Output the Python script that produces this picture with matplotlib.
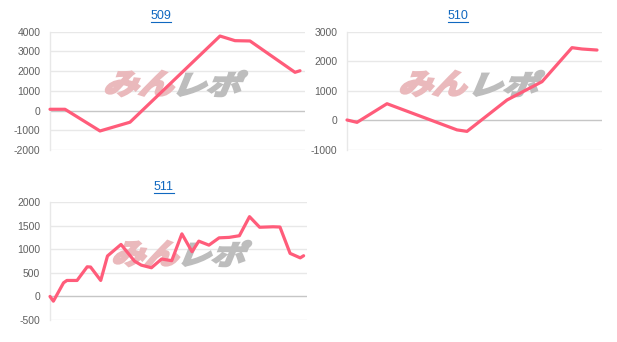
import matplotlib.pyplot as plt
from matplotlib.font_manager import FontProperties
from matplotlib.lines import Line2D
from matplotlib.patches import PathPatch
from matplotlib.textpath import TextPath
from matplotlib.transforms import Affine2D, IdentityTransform

W, H = 617, 342

titles = ["509", "510", "511"]

x509 = [0, 3, 10, 16, 34, 37, 40, 49, 50]
y509 = [65, 65, -1035, -590, 3780, 3545, 3530, 1940, 2020]

x510 = [0, 2, 8, 22, 24, 32, 39, 45, 47, 50]
y510 = [15, -65, 565, -320, -370, 690, 1310, 2460, 2415, 2380]

x511 = [0, 1, 4, 5, 8, 11, 12, 15, 17, 21, 25, 27, 30, 33, 36, 39, 42, 44,
        47, 50, 53, 56, 59, 62, 66, 68, 71, 74, 75]
y511 = [0, -100, 290, 340, 340, 630, 625, 340, 860, 1105, 750, 665, 610, 795,
        760, 1330, 950, 1175, 1090, 1245, 1255, 1290, 1695, 1470, 1480, 1475,
        915, 820, 865]

ticks509 = [-2000, -1000, 0, 1000, 2000, 3000, 4000]
ticks510 = [-1000, 0, 1000, 2000, 3000]
ticks511 = [-500, 0, 500, 1000, 1500, 2000]

LINE = "#ff5c7a"
GRID = "#e8e8e8"
ZERO = "#c6c6c6"
LINK = "#1068c0"

plt.rcParams["font.family"] = ["Liberation Sans", "DejaVu Sans"]

fig = plt.figure(figsize=(W / 100, H / 100), dpi=100)

# panels: (left, right, top, bottom) in image pixels
panels = [
    dict(box=(50, 305, 31.7, 150), x=x509, y=y509, ticks=ticks509, xmax=51,
         title=(161, 16), logo=((105, 175), (177, 248), (70, 97))),
    dict(box=(347, 602, 31.7, 150), x=x510, y=y510, ticks=ticks510, xmax=51,
         title=(458, 16), logo=((400, 468), (473, 545), (70, 97))),
    dict(box=(50, 307, 202.3, 320), x=x511, y=y511, ticks=ticks511, xmax=76,
         title=(164, 187), logo=((113, 180), (182, 252), (240, 267))),
]

fp = FontProperties(family="Noto Sans CJK JP", weight="bold")


def logo_patch(text, xr, yr, color):
    path = TextPath((0, 0), text, size=100, prop=fp)
    path = Affine2D().skew_deg(18, 0).transform_path(path)
    (x0, y0), (x1, y1) = path.get_extents().get_points()
    # leave room for the stroke that fattens the glyphs
    top, bot = H - yr[0] - 1, H - yr[1] + 1
    xa, xb = xr[0] + 1, xr[1] - 1
    tr = (Affine2D().translate(-x0, -y0)
          .scale((xb - xa) / (x1 - x0), (top - bot) / (y1 - y0))
          .translate(xa, bot))
    return PathPatch(tr.transform_path(path), facecolor=color, edgecolor=color,
                     lw=1.8, joinstyle="miter", transform=IdentityTransform(),
                     zorder=1)


title_texts = []
for p, name in zip(panels, titles):
    l, r, t, b = p["box"]
    ax = fig.add_axes([l / W, 1 - b / H, (r - l) / W, (b - t) / H])
    ax.set_facecolor("none")
    ax.set_yticks(p["ticks"])
    ax.set_yticklabels([str(v) for v in p["ticks"]])
    ax.set_xticks([])
    for v in p["ticks"]:
        ax.axhline(v, color=ZERO if v == 0 else GRID, lw=1, zorder=0.5)
    for s in ["top", "right", "bottom"]:
        ax.spines[s].set_visible(False)
    ax.spines["left"].set_color(GRID)
    ax.spines["left"].set_linewidth(1)
    ax.tick_params(axis="y", length=0, pad=7, labelsize=7.5, labelcolor="#606060")

    pink_x, gray_x, yr = p["logo"]
    ax.add_patch(logo_patch("みん", pink_x, yr, "#eab9bc"))
    ax.add_patch(logo_patch("レポ", gray_x, yr, "#bdbdbd"))
    ax.set_xlim(0, p["xmax"])
    ax.set_ylim(p["ticks"][0], p["ticks"][-1])

    ax.plot(p["x"], p["y"], color=LINE, lw=2.3, solid_joinstyle="round",
            solid_capstyle="round", zorder=3, clip_on=False)

    tx, ty = p["title"]
    title_texts.append(fig.text(tx / W, 1 - ty / H, name, color=LINK, fontsize=9,
                                ha="center", va="center"))

fig.canvas.draw()
renderer = fig.canvas.get_renderer()
for t in title_texts:
    bb = t.get_window_extent(renderer)
    fig.add_artist(Line2D([bb.x0, bb.x1], [bb.y0 + 0.5, bb.y0 + 0.5], color=LINK,
                          lw=0.8, transform=IdentityTransform()))

fig.savefig("out.png", dpi=100, facecolor="white")
